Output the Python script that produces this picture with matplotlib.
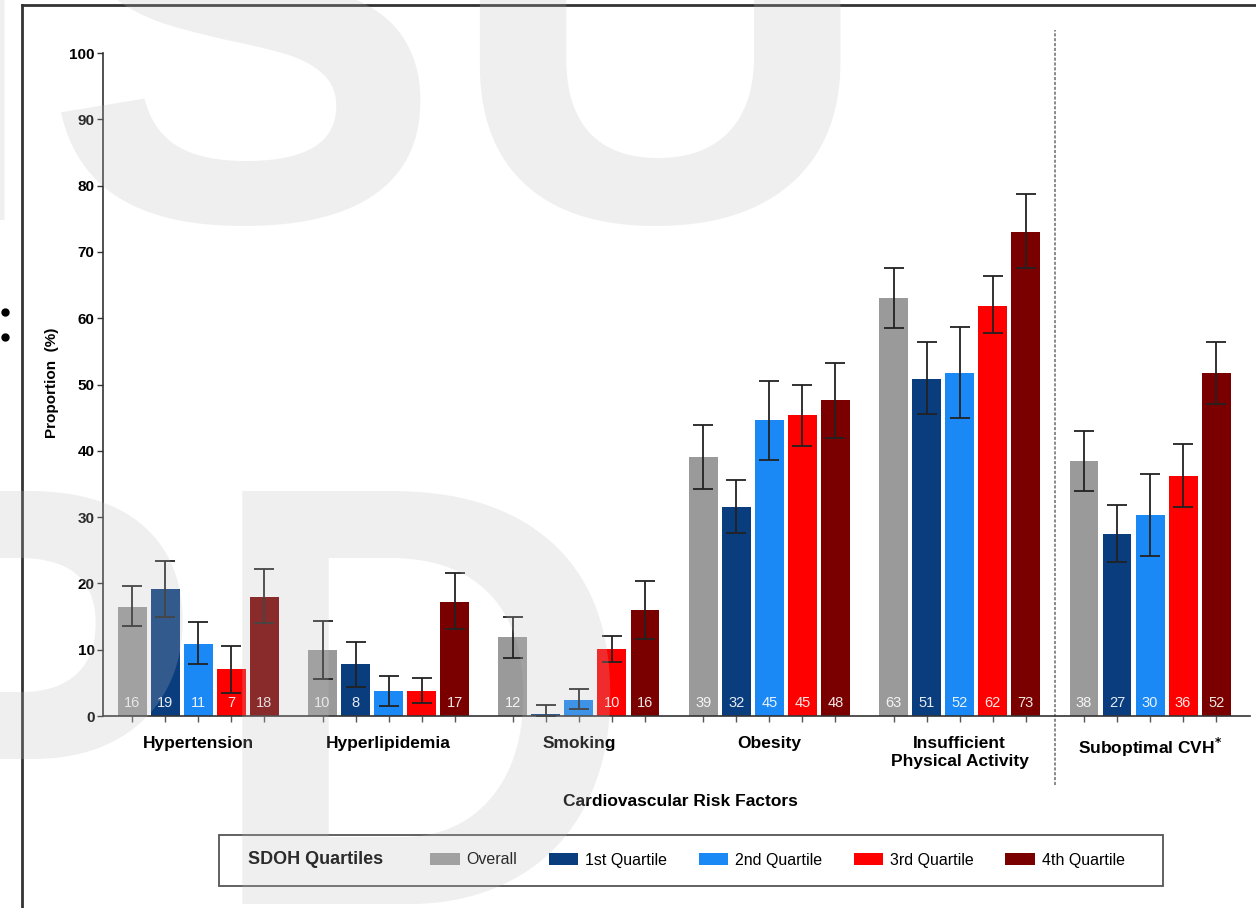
import matplotlib
matplotlib.use("Agg")
import matplotlib.pyplot as plt
import numpy as np
from matplotlib import font_manager
from matplotlib.lines import Line2D
from matplotlib.patches import Patch, Rectangle

categories = [
    "Hypertension",
    "Hyperlipidemia",
    "Smoking",
    "Obesity",
    "Insufficient\nPhysical Activity",
    "Suboptimal CVH$^{*}$",
]
series_names = ["Overall", "1st Quartile", "2nd Quartile", "3rd Quartile", "4th Quartile"]
series_colors = ["#9a9a9a", "#0a3d7e", "#1a88f5", "#ff0000", "#7a0000"]

# proportion (%) with lower / upper 95% CI per risk factor
overall = [16.4, 9.9, 11.9, 39.0, 63.1, 38.4]
overall_lo = [13.5, 5.6, 8.7, 34.2, 58.5, 34.0]
overall_hi = [19.6, 14.3, 15.0, 43.9, 67.6, 43.0]

q1 = [19.2, 7.8, 0.3, 31.5, 50.8, 27.4]
q1_lo = [15.0, 4.4, 0.0, 27.6, 45.6, 23.2]
q1_hi = [23.4, 11.1, 1.6, 35.6, 56.4, 31.8]

q2 = [10.9, 3.8, 2.4, 44.6, 51.8, 30.3]
q2_lo = [7.8, 1.5, 1.0, 38.6, 44.9, 24.2]
q2_hi = [14.2, 6.1, 4.0, 50.5, 58.7, 36.5]

q3 = [7.1, 3.7, 10.1, 45.4, 61.9, 36.2]
q3_lo = [3.4, 2.0, 8.1, 40.7, 57.8, 31.5]
q3_hi = [10.6, 5.7, 12.1, 50.0, 66.3, 41.1]

q4 = [17.9, 17.2, 16.0, 47.6, 73.0, 51.8]
q4_lo = [14.0, 13.1, 11.6, 41.9, 67.5, 47.1]
q4_hi = [22.1, 21.5, 20.4, 53.2, 78.8, 56.4]

series = [
    (overall, overall_lo, overall_hi),
    (q1, q1_lo, q1_hi),
    (q2, q2_lo, q2_hi),
    (q3, q3_lo, q3_hi),
    (q4, q4_lo, q4_hi),
]

W, H = 1256, 908
installed = {f.name for f in font_manager.fontManager.ttflist}
BASE = "Liberation Sans" if "Liberation Sans" in installed else "DejaVu Sans"
plt.rcParams["font.family"] = [BASE, "DejaVu Sans"]
plt.rcParams["mathtext.default"] = "bf"

fig = plt.figure(figsize=(W / 100, H / 100), dpi=100)
fig.patch.set_facecolor("white")

# axes box: y=0 at 716px, y=100 at 53px; x from 103px to 1250px
ax = fig.add_axes([103 / W, (H - 716) / H, (1250 - 103) / W, (716 - 53) / H])
ax.set_xlim(-0.5, 5.525)
ax.set_ylim(0, 100)

groups = np.arange(len(categories))
pitch = 0.1735
width = 0.152
tick_x = []
for j, (vals, lo, hi) in enumerate(series):
    vals = np.asarray(vals)
    xs = groups + (j - 2) * pitch
    tick_x.extend(xs)
    ax.bar(xs, vals, width=width, color=series_colors[j], edgecolor="none", zorder=2)
    yerr = np.vstack([vals - np.asarray(lo), np.asarray(hi) - vals])
    ax.errorbar(xs, vals, yerr=yerr, fmt="none", ecolor="#222222", elinewidth=1.3,
                capsize=7, capthick=1.3, zorder=3)
    for x, v in zip(xs, vals):
        if v >= 5:
            ax.text(x, 2.0, f"{int(v + 0.5)}", ha="center", va="center", color="white",
                    alpha=0.9, fontsize=10.5, zorder=4)

ax.set_yticks(np.arange(0, 101, 10))
ax.set_yticklabels([str(t) for t in range(0, 101, 10)], fontweight="bold", fontsize=11)
ax.set_xticks(sorted(tick_x))
ax.set_xticklabels([])
ax.tick_params(axis="y", length=4, width=1, color="#333333", pad=2)
ax.tick_params(axis="x", length=4, width=1, color="#555555")
for side in ("top", "right"):
    ax.spines[side].set_visible(False)
for side in ("left", "bottom"):
    ax.spines[side].set_color("#333333")
    ax.spines[side].set_linewidth(1.2)

for g, cat in zip(groups, categories):
    ax.text(g, -3.0, cat, ha="center", va="top", fontweight="bold", fontsize=12.5,
            linespacing=1.3, clip_on=False)

# separator before the composite outcome
ax.plot([4.5, 4.5], [-10.4, 103.5], color="#8a8a8a", lw=1.4, ls=(0, (1.6, 0.9)),
        clip_on=False, zorder=1)

fig.text(52 / W, 1 - 383 / H, "Proportion  (%)", rotation=90, ha="center", va="center",
         fontweight="bold", fontsize=11)
fig.text(680 / W, 1 - 802 / H, "Cardiovascular Risk Factors", ha="center", va="center",
         fontweight="bold", fontsize=12.5)

# legend box
fig.add_artist(Rectangle((219 / W, 1 - 886 / H), 944 / W, 51 / H, transform=fig.transFigure,
                         fill=False, edgecolor="#555555", lw=1.3))
fig.text(248 / W, 1 - 860 / H, "SDOH Quartiles", ha="left", va="center",
         fontweight="bold", fontsize=13)
handles = [Patch(facecolor=c, edgecolor="none") for c in series_colors]
fig.legend(handles, series_names, loc="center left", bbox_to_anchor=(430 / W, 1 - 860 / H),
           ncol=5, frameon=False, borderaxespad=0, borderpad=0, handlelength=1.85,
           handleheight=0.85, handletextpad=0.45, columnspacing=1.95,
           prop={"family": BASE, "size": 11.5})

# page frame and margin marks
fig.add_artist(Line2D([22 / W, 22 / W], [0, 1 - 5 / H], color="#333333", lw=2,
                      transform=fig.transFigure))
fig.add_artist(Line2D([22 / W, 1], [1 - 5 / H, 1 - 5 / H], color="#333333", lw=2,
                      transform=fig.transFigure))
fig.add_artist(Line2D([5 / W, 5 / W], [1 - 312 / H, 1 - 337 / H], ls="none", marker="o",
                      ms=5, color="black", transform=fig.transFigure))

# watermark lettering over the plot
wm = dict(fontsize=432, fontweight="bold", family=BASE, color="#bbbbbb", alpha=0.235,
          ha="left", va="baseline", zorder=10)
fig.text(-122 / W, 1 - 220 / H, "ISU", **wm)
fig.text(-197 / W, 1 - 904 / H, "PD", **wm)

fig.savefig("out.png", dpi=100, facecolor="white")
